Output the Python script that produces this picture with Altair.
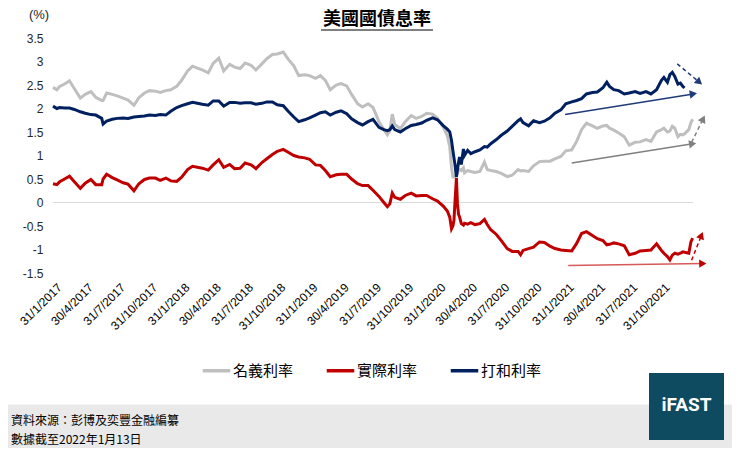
import altair as alt
import pandas as pd

# ---------------- data ----------------
dates = [
    "2017-01-13", "2017-01-24", "2017-02-01", "2017-02-15", "2017-03-01", "2017-03-15",
    "2017-04-01", "2017-04-15", "2017-05-01", "2017-05-15", "2017-06-01", "2017-06-05",
    "2017-06-15", "2017-07-01", "2017-07-15", "2017-08-01", "2017-08-15", "2017-09-01",
    "2017-09-15", "2017-10-01", "2017-10-15", "2017-11-01", "2017-11-15", "2017-12-01",
    "2017-12-15", "2018-01-01", "2018-01-15", "2018-02-01", "2018-02-15", "2018-03-01",
    "2018-03-15", "2018-04-01", "2018-04-15", "2018-05-01", "2018-05-15", "2018-06-01",
    "2018-06-15", "2018-07-01", "2018-07-15", "2018-08-01", "2018-08-15", "2018-09-01",
    "2018-09-15", "2018-10-01", "2018-10-15", "2018-11-01", "2018-11-15", "2018-12-01",
    "2018-12-15", "2019-01-01", "2019-01-15", "2019-02-01", "2019-02-15", "2019-03-01",
    "2019-03-15", "2019-04-01", "2019-04-15", "2019-05-01", "2019-05-15", "2019-06-01",
    "2019-06-15", "2019-07-01", "2019-07-15", "2019-08-01", "2019-08-15", "2019-08-25",
    "2019-09-01", "2019-09-08", "2019-09-15", "2019-10-01", "2019-10-15", "2019-11-01",
    "2019-11-15", "2019-12-01", "2019-12-15", "2020-01-01", "2020-01-15", "2020-02-01",
    "2020-02-12", "2020-02-19", "2020-02-24", "2020-02-28", "2020-03-02", "2020-03-05",
    "2020-03-09", "2020-03-12", "2020-03-15", "2020-03-18", "2020-03-23", "2020-03-29",
    "2020-04-01", "2020-04-10", "2020-04-19", "2020-05-01", "2020-05-15", "2020-05-28",
    "2020-06-05", "2020-06-15", "2020-07-01", "2020-07-15", "2020-08-01", "2020-08-15",
    "2020-09-01", "2020-09-08", "2020-09-15", "2020-10-01", "2020-10-15", "2020-11-01",
    "2020-11-15", "2020-12-01", "2020-12-15", "2021-01-01", "2021-01-15", "2021-02-01",
    "2021-02-15", "2021-03-01", "2021-03-15", "2021-04-01", "2021-04-15", "2021-05-01",
    "2021-05-12", "2021-05-20", "2021-06-01", "2021-06-15", "2021-07-01", "2021-07-15",
    "2021-08-01", "2021-08-15", "2021-09-01", "2021-09-15", "2021-10-01", "2021-10-15",
    "2021-10-22", "2021-11-01", "2021-11-08", "2021-11-15", "2021-11-22", "2021-12-01",
    "2021-12-08", "2021-12-15", "2021-12-20", "2022-01-01", "2022-01-07", "2022-01-12",
]

nominal = [
    2.45, 2.40, 2.47, 2.52, 2.59, 2.42,
    2.22, 2.30, 2.36, 2.24, 2.17, 2.17,
    2.33, 2.30, 2.27, 2.22, 2.18, 2.07,
    2.23, 2.33, 2.38, 2.37, 2.34, 2.38,
    2.40, 2.47, 2.60, 2.80, 2.90, 2.86,
    2.82, 2.76, 2.96, 3.07, 2.80, 2.94,
    2.88, 2.85, 2.97, 2.92, 2.82, 2.95,
    3.06, 3.15, 3.16, 3.20, 3.05, 2.91,
    2.70, 2.72, 2.70, 2.64, 2.70, 2.60,
    2.40, 2.50, 2.53, 2.48, 2.30, 2.10,
    2.03, 2.10, 2.02, 1.72, 1.55, 1.44,
    1.52, 1.88, 1.66, 1.57, 1.72, 1.85,
    1.79, 1.83, 1.90, 1.88, 1.79, 1.60,
    1.42, 1.18, 0.75, 0.54, 0.54, 0.56,
    0.58, 0.62, 0.70, 0.70, 0.68, 0.74,
    0.63, 0.68, 0.66, 0.64, 0.66, 0.86,
    0.70, 0.68, 0.66, 0.62, 0.55, 0.58,
    0.70, 0.67, 0.68, 0.66, 0.78, 0.87,
    0.88, 0.88, 0.93, 0.98, 1.10, 1.12,
    1.30, 1.55, 1.69, 1.63, 1.58, 1.63,
    1.64, 1.58, 1.54, 1.48, 1.40, 1.22,
    1.28, 1.29, 1.34, 1.30, 1.50, 1.55,
    1.58, 1.50, 1.52, 1.62, 1.58, 1.40,
    1.45, 1.44, 1.46, 1.55, 1.70, 1.77,
]

real = [
    0.40, 0.38, 0.44, 0.50, 0.56, 0.44,
    0.30, 0.41, 0.49, 0.38, 0.38, 0.50,
    0.60, 0.53, 0.48, 0.42, 0.39, 0.25,
    0.40, 0.49, 0.52, 0.52, 0.47, 0.52,
    0.46, 0.45, 0.54, 0.70, 0.77, 0.75,
    0.73, 0.69, 0.80, 0.91, 0.75, 0.81,
    0.72, 0.73, 0.84, 0.80, 0.72, 0.85,
    0.93, 1.02, 1.09, 1.13, 1.07, 1.00,
    0.97, 0.95, 0.92, 0.80, 0.79, 0.68,
    0.55, 0.59, 0.60, 0.60, 0.50, 0.40,
    0.36, 0.36, 0.26, 0.13, 0.00, -0.09,
    -0.03, 0.20, 0.11, 0.07, 0.15, 0.20,
    0.14, 0.15, 0.15, 0.08, 0.03, -0.08,
    -0.18, -0.31, -0.56, -0.50, -0.38, 0.02,
    0.52, -0.03, -0.25, -0.31, -0.45, -0.48,
    -0.44, -0.46, -0.43, -0.47, -0.45, -0.36,
    -0.47, -0.58, -0.68, -0.81, -0.98, -1.04,
    -1.04, -1.11, -1.02, -0.98, -0.95, -0.84,
    -0.85, -0.93, -0.98, -1.01, -1.02, -1.03,
    -0.87, -0.66, -0.62, -0.70, -0.77, -0.81,
    -0.90, -0.89, -0.86, -0.88, -0.92, -1.11,
    -1.08, -1.03, -1.02, -1.01, -0.88, -1.02,
    -1.08, -1.15, -1.22, -1.12, -1.08, -1.10,
    -1.08, -1.05, -1.06, -1.08, -0.84, -0.76,
]

breakeven = [
    2.05, 2.00, 2.02, 2.01, 2.01, 1.98,
    1.93, 1.90, 1.87, 1.86, 1.79, 1.67,
    1.73, 1.77, 1.79, 1.80, 1.79, 1.82,
    1.83, 1.84, 1.86, 1.85, 1.87, 1.86,
    1.94, 2.02, 2.06, 2.10, 2.13, 2.11,
    2.09, 2.07, 2.16, 2.16, 2.05, 2.13,
    2.13, 2.11, 2.12, 2.12, 2.09, 2.11,
    2.14, 2.14, 2.08, 2.06, 1.94, 1.82,
    1.72, 1.76, 1.80, 1.86, 1.91, 1.93,
    1.86, 1.92, 1.95, 1.89, 1.78, 1.70,
    1.65, 1.72, 1.77, 1.60, 1.55, 1.53,
    1.55, 1.63, 1.55, 1.50, 1.57, 1.64,
    1.66, 1.69, 1.75, 1.80, 1.76, 1.63,
    1.56, 1.50, 1.32, 1.10, 0.95, 0.80,
    0.54, 0.70, 0.85, 0.97, 0.81, 1.14,
    1.00, 1.11, 1.04, 1.08, 1.12, 1.19,
    1.18, 1.25, 1.34, 1.43, 1.52, 1.62,
    1.74, 1.78, 1.70, 1.63, 1.74, 1.70,
    1.73, 1.80, 1.90, 1.97, 2.10, 2.14,
    2.17, 2.21, 2.31, 2.34, 2.35, 2.44,
    2.56, 2.47, 2.40, 2.38, 2.31, 2.33,
    2.36, 2.32, 2.36, 2.31, 2.40, 2.60,
    2.66, 2.56, 2.72, 2.77, 2.68, 2.52,
    2.54, 2.47, 2.44, None, None, None,
]

series_names = ["名義利率", "實際利率", "打和利率"]
series_colors = ["#BFBFBF", "#C00000", "#002060"]

tick_dates = [
    "2017-01-31", "2017-04-30", "2017-07-31", "2017-10-31",
    "2018-01-31", "2018-04-30", "2018-07-31", "2018-10-31",
    "2019-01-31", "2019-04-30", "2019-07-31", "2019-10-31",
    "2020-01-31", "2020-04-30", "2020-07-31", "2020-10-31",
    "2021-01-31", "2021-04-30", "2021-07-31", "2021-10-31",
]
y_ticks = [-1.5, -1, -0.5, 0, 0.5, 1, 1.5, 2, 2.5, 3, 3.5]

# trend arrows (start / end in data units)
arrow_start_dates = ["2021-01-13", "2021-11-29", "2021-02-01", "2022-01-09", "2021-01-22", "2022-01-09"]
arrow_start_vals = [1.87, 2.95, 0.84, 1.28, -1.34, -1.23]
arrow_end_dates = ["2022-01-14", "2022-01-31", "2022-01-12", "2022-02-11", "2022-02-10", "2022-02-06"]
arrow_end_vals = [2.31, 2.56, 1.25, 1.78, -1.30, -0.70]
arrow_line_colors = ["#1F3C78", "#1F3C78", "#808080", "#808080", "#D65A5A", "#C00000"]
arrow_head_colors = ["#1F3C78", "#1F3C78", "#808080", "#808080", "#C00000", "#C00000"]
arrow_dashed = [False, True, False, True, False, True]
arrow_angles = [351, 40, 351, 296, 359, 292]

# ---------------- build tables ----------------
rows = []
for d, g, r, b in zip(dates, nominal, real, breakeven):
    rows.append({"date": d, "value": g, "series": series_names[0]})
    rows.append({"date": d, "value": r, "series": series_names[1]})
    if b is not None:
        rows.append({"date": d, "value": b, "series": series_names[2]})
df = pd.DataFrame(rows)


def dt(s):
    y, m, d = (int(p) for p in s.split("-"))
    return alt.DateTime(year=y, month=m, date=d, utc=True)


CJK = "Noto Sans CJK TC"
LAT = "Liberation Sans"

x_scale = alt.Scale(type="utc", domain=[dt("2017-01-13"), dt("2022-01-13")], nice=False)
y_scale = alt.Scale(domain=[-1.5, 3.5], nice=False, zero=False)

x_axis = alt.Axis(
    values=[dt(s) for s in tick_dates],
    labelExpr="utcFormat(datum.value, '%-d/%-m/%Y')",
    labelAngle=-45, labelAlign="right", labelBaseline="middle",
    labelPadding=12, labelFont=LAT, labelFontSize=12, labelColor="#000000",
    labelOverlap=False, labelFlush=False, labelBound=False,
    domain=False, ticks=False, tickSize=0, grid=False,
)
y_axis = alt.Axis(
    values=y_ticks, labelExpr="'' + datum.value",
    labelFont=LAT, labelFontSize=12, labelColor="#262626", labelPadding=10,
    domain=False, ticks=False, tickSize=0, grid=False,
)

legend = alt.Legend(
    orient="none", legendX=148, legendY=317, direction="horizontal", title=None,
    symbolType="stroke", symbolStrokeWidth=3.5, symbolSize=756,
    labelFont=CJK, labelFontSize=15, labelColor="#000000", labelOffset=1,
    columnPadding=25,
)

color = alt.Color("series:N", scale=alt.Scale(domain=series_names, range=series_colors), legend=legend)

layers = []

# footer band
layers.append(
    alt.Chart(pd.DataFrame({"a": [0]})).mark_rect(color="#E9E9E9").encode(
        x=alt.value(-53), x2=alt.value(700), y=alt.value(366.6), y2=alt.value(420)
    )
)

# zero line
layers.append(
    alt.Chart(pd.DataFrame({"value": [0]})).mark_rule(color="#D9D9D9", strokeWidth=1).encode(
        y=alt.Y("value:Q", scale=y_scale, axis=y_axis, title=None)
    )
)

for name in series_names:
    layers.append(
        alt.Chart(df).transform_filter(alt.datum.series == name).mark_line(strokeWidth=3).encode(
            x=alt.X("date:T", scale=x_scale, axis=x_axis, title=None),
            y=alt.Y("value:Q", scale=y_scale, axis=y_axis, title=None),
            color=color,
        )
    )

for sd, sv, ed, ev, lc, hc, dash, ang in zip(
    arrow_start_dates, arrow_start_vals, arrow_end_dates, arrow_end_vals,
    arrow_line_colors, arrow_head_colors, arrow_dashed, arrow_angles,
):
    adf = pd.DataFrame({"date": [sd], "value": [sv], "date2": [ed], "value2": [ev]})
    rule_kw = dict(color=lc, strokeWidth=1.5)
    if dash:
        rule_kw["strokeDash"] = [4, 3]
    layers.append(
        alt.Chart(adf).mark_rule(**rule_kw).encode(
            x=alt.X("date:T", scale=x_scale, axis=x_axis, title=None),
            x2="date2:T",
            y=alt.Y("value:Q", scale=y_scale, axis=y_axis, title=None),
            y2="value2:Q",
        )
    )
    layers.append(
        alt.Chart(adf).mark_point(shape="triangle-right", filled=True, size=70, color=hc,
                                  opacity=1, angle=ang).encode(
            x=alt.X("date2:T", scale=x_scale, axis=x_axis, title=None),
            y=alt.Y("value2:Q", scale=y_scale, axis=y_axis, title=None),
        )
    )


def label(text, x, y, size, weight="normal", color="#000000", align="center", font=CJK):
    return alt.Chart(pd.DataFrame({"t": [text]})).mark_text(
        align=align, baseline="middle", fontSize=size, fontWeight=weight, color=color, font=font
    ).encode(x=alt.value(x), y=alt.value(y), text="t:N")


# title with underline
layers.append(label("美國國債息率", 324, -18, 18, weight="bold",
                    font="Liberation Sans, Noto Sans CJK TC"))
layers.append(
    alt.Chart(pd.DataFrame({"a": [0]})).mark_rule(color="#000000", strokeWidth=1).encode(
        x=alt.value(268), x2=alt.value(380), y=alt.value(-8)
    )
)
layers.append(label("(%)", -14, -23, 13, font=LAT, color="#262626"))

# footer notes
layers.append(label("資料來源：彭博及奕豐金融編纂", -42, 383, 12, align="left"))
layers.append(label("數據截至2022年1月13日", -42, 402, 12, align="left"))

# logo
layers.append(
    alt.Chart(pd.DataFrame({"a": [0]})).mark_rect(color="#0E4B60").encode(
        x=alt.value(596), x2=alt.value(671), y=alt.value(335), y2=alt.value(402)
    )
)
layers.append(label("iFAST", 633.5, 367, 19, weight="bold", color="#FFFFFF", font="Roboto"))

chart = alt.layer(*layers).properties(
    width=640, height=235,
    padding={"left": 45, "top": 30, "right": 39, "bottom": 175},
    autosize=alt.AutoSizeParams(type="none"),
    background="#FFFFFF",
).configure_view(stroke=None)

chart.save("out.html", embed_options={"renderer": "svg", "actions": False})
